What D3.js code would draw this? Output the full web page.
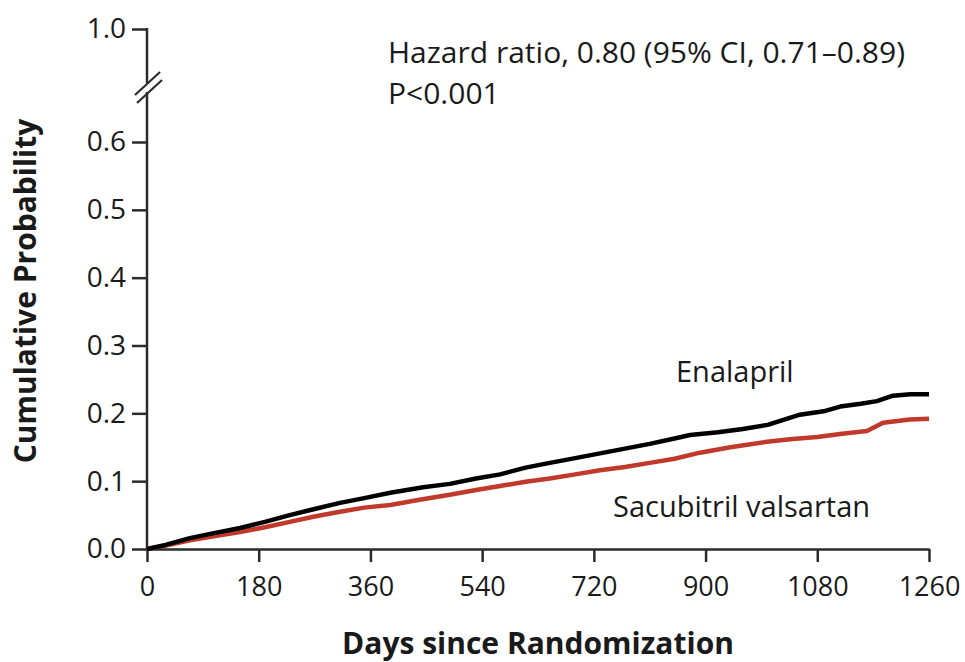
<!DOCTYPE html>
<html><head><meta charset="utf-8">
<script src="https://cdn.jsdelivr.net/npm/d3@7"></script>
<style>body{margin:0;background:#fff}svg{display:block}text{font-family:"Open Sans",sans-serif;fill:#1a1a1a}</style>
</head><body>
<svg id="c" width="965" height="662"></svg>
<script>
const xTicks = [0,180,360,540,720,900,1080,1260];
const yTicks = [0,0.1,0.2,0.3,0.4,0.5,0.6,1.0];
const enalaprilDays = [0,30,69,100,150,190,230,270,311,350,392,445,488,530,569,610,649,690,730,770,810,850,875,920,960,1000,1052,1090,1117,1150,1176,1202,1230,1260];
const enalaprilVals = [0,0.006,0.016,0.022,0.031,0.040,0.050,0.059,0.068,0.075,0.083,0.091,0.096,0.104,0.110,0.120,0.127,0.134,0.141,0.148,0.155,0.163,0.168,0.172,0.177,0.183,0.198,0.203,0.210,0.214,0.218,0.226,0.228,0.228];
const sacubitrilDays = [0,30,69,110,150,190,230,270,311,350,392,430,461,488,530,569,610,649,690,730,770,810,850,891,940,999,1040,1080,1120,1160,1186,1229,1260];
const sacubitrilVals = [0,0.005,0.013,0.019,0.025,0.032,0.040,0.048,0.055,0.061,0.065,0.071,0.076,0.080,0.087,0.093,0.099,0.104,0.110,0.116,0.121,0.127,0.133,0.142,0.150,0.158,0.162,0.165,0.170,0.174,0.186,0.191,0.192];

const svg = d3.select("#c");
const x = d3.scaleLinear().domain([0,1260]).range([147,929]);
const y = d3.scaleLinear().domain([0,0.6,1.0]).range([549,142,29]);
const axisColor = "#2b2b2b";

// x axis
const xa = svg.append("g").attr("transform","translate(0,549)")
  .call(d3.axisBottom(x).tickValues(xTicks).tickFormat(d3.format("d")).tickSize(13).tickPadding(15).tickSizeOuter(0));
xa.select(".domain").attr("stroke",axisColor).attr("stroke-width",2.5);
xa.selectAll(".tick line").attr("stroke",axisColor).attr("stroke-width",2.5);
xa.selectAll(".tick text").style("font-size","27px").attr("fill","#1a1a1a").attr("font-family","'Open Sans', sans-serif");

// y axis
const ya = svg.append("g").attr("transform","translate(147,0)")
  .call(d3.axisLeft(y).tickValues(yTicks).tickFormat(d3.format(".1f")).tickSize(15).tickPadding(6).tickSizeOuter(0));
ya.select(".domain").remove();
ya.selectAll(".tick line").attr("stroke",axisColor).attr("stroke-width",2.5);
ya.selectAll(".tick text").style("font-size","28px").attr("fill","#1a1a1a").attr("font-family","'Open Sans', sans-serif");
// broken axis segments
svg.append("line").attr("x1",147).attr("x2",147).attr("y1",y(1.0)-1).attr("y2",83).attr("stroke",axisColor).attr("stroke-width",2.5);
svg.append("line").attr("x1",147).attr("x2",147).attr("y1",92).attr("y2",y(0)+1).attr("stroke",axisColor).attr("stroke-width",2.5);
svg.append("line").attr("x1",135).attr("y1",95).attr("x2",160).attr("y2",72).attr("stroke",axisColor).attr("stroke-width",2.2);
svg.append("line").attr("x1",137).attr("y1",103).attr("x2",162).attr("y2",80).attr("stroke",axisColor).attr("stroke-width",2.2);

const line = d3.line().x(d=>x(d[0])).y(d=>y(d[1]));
svg.append("path").datum(sacubitrilDays.map((d,i)=>[d,sacubitrilVals[i]]))
  .attr("d",line).attr("fill","none").attr("stroke","#c0392b").attr("stroke-width",4.5).attr("stroke-linejoin","round");
svg.append("path").datum(enalaprilDays.map((d,i)=>[d,enalaprilVals[i]]))
  .attr("d",line).attr("fill","none").attr("stroke","#000").attr("stroke-width",4.5).attr("stroke-linejoin","round");

svg.append("text").attr("x",676).attr("y",382).style("font-size","29px").text("Enalapril");
svg.append("text").attr("x",613).attr("y",517).style("font-size","29px").text("Sacubitril valsartan");
svg.append("text").attr("x",388).attr("y",63).style("font-size","30px").text("Hazard ratio, 0.80 (95% CI, 0.71\u20130.89)");
svg.append("text").attr("x",388).attr("y",104).style("font-size","30px").text("P<0.001");

svg.append("text").attr("transform","translate(36,291) rotate(-90)").attr("text-anchor","middle")
  .style("font-size","30px").style("font-weight","bold").text("Cumulative Probability");
svg.append("text").attr("x",538).attr("y",654).attr("text-anchor","middle")
  .style("font-size","30px").style("font-weight","bold").text("Days since Randomization");
</script>
</body></html>
